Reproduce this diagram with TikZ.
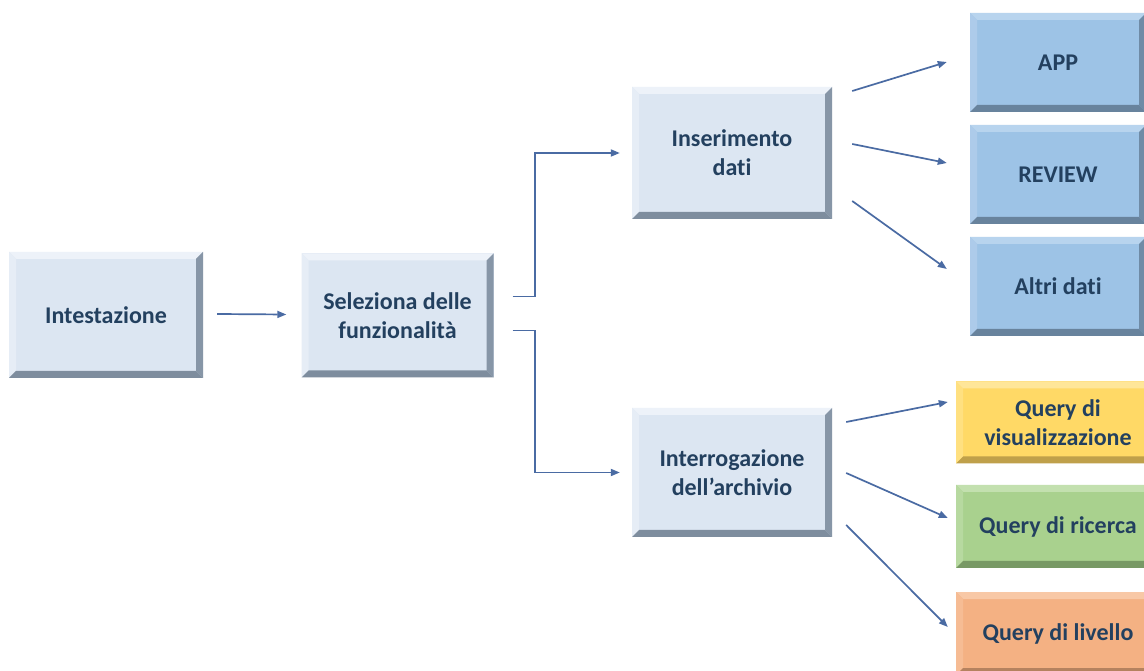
\documentclass[tikz,border=0pt]{standalone}
\usepackage{fontspec}
\setmainfont{Carlito}[Ligatures=NoCommon]
\usetikzlibrary{arrows.meta}

\definecolor{linkc}{HTML}{4A6BA3}
\definecolor{txtc}{HTML}{23405F}
% pale blue process boxes
\definecolor{paleF}{HTML}{DCE6F2}
\definecolor{paleT}{HTML}{EDF2F9}
\definecolor{paleL}{HTML}{E6EDF6}
\definecolor{paleR}{HTML}{8796A7}
\definecolor{paleB}{HTML}{7E8D9E}
% blue output boxes
\definecolor{blueF}{HTML}{9DC3E6}
\definecolor{blueT}{HTML}{B8D4EE}
\definecolor{blueL}{HTML}{ADCBEA}
\definecolor{blueR}{HTML}{6F8BA6}
\definecolor{blueB}{HTML}{68839D}
% yellow
\definecolor{yelF}{HTML}{FFD966}
\definecolor{yelT}{HTML}{FFE699}
\definecolor{yelL}{HTML}{FFE080}
\definecolor{yelR}{HTML}{C7A74E}
\definecolor{yelB}{HTML}{BFA04A}
% green
\definecolor{grnF}{HTML}{A9D18E}
\definecolor{grnT}{HTML}{C3E0AF}
\definecolor{grnL}{HTML}{B7D9A0}
\definecolor{grnR}{HTML}{80A06A}
\definecolor{grnB}{HTML}{789965}
% orange
\definecolor{orgF}{HTML}{F4B183}
\definecolor{orgT}{HTML}{F8C8A6}
\definecolor{orgL}{HTML}{F6BC94}
\definecolor{orgR}{HTML}{BE8965}
\definecolor{orgB}{HTML}{B5825F}

\tikzset{
  bevel/.style n args={5}{
    rectangle, inner sep=0pt, fill=#1, text=txtc, align=center,
    font=\fontsize{24}{29}\selectfont\bfseries,
    path picture={
      \fill[#2] (path picture bounding box.north west)
        -- (path picture bounding box.north east)
        -- ([shift={(-7pt,-7pt)}]path picture bounding box.north east)
        -- ([shift={(7pt,-7pt)}]path picture bounding box.north west) -- cycle;
      \fill[#3] (path picture bounding box.north west)
        -- ([shift={(7pt,-7pt)}]path picture bounding box.north west)
        -- ([shift={(7pt,7pt)}]path picture bounding box.south west)
        -- (path picture bounding box.south west) -- cycle;
      \fill[#4] (path picture bounding box.north east)
        -- (path picture bounding box.south east)
        -- ([shift={(-7pt,7pt)}]path picture bounding box.south east)
        -- ([shift={(-7pt,-7pt)}]path picture bounding box.north east) -- cycle;
      \fill[#5] (path picture bounding box.south west)
        -- (path picture bounding box.south east)
        -- ([shift={(-7pt,7pt)}]path picture bounding box.south east)
        -- ([shift={(7pt,7pt)}]path picture bounding box.south west) -- cycle;
    }},
  palebox/.style={bevel={paleF}{paleT}{paleL}{paleR}{paleB}},
  bluebox/.style={bevel={blueF}{blueT}{blueL}{blueR}{blueB},
    minimum width=176pt, minimum height=99pt},
  yelbox/.style={bevel={yelF}{yelT}{yelL}{yelR}{yelB},
    minimum width=204pt, minimum height=82pt},
  grnbox/.style={bevel={grnF}{grnT}{grnL}{grnR}{grnB},
    minimum width=204pt, minimum height=83pt},
  orgbox/.style={bevel={orgF}{orgT}{orgL}{orgR}{orgB},
    minimum width=204pt, minimum height=83pt},
  link/.style={draw=linkc, line width=1.7pt,
    -{Triangle[length=9pt,width=7pt]}}
}

\begin{document}
\begin{tikzpicture}[x=1pt,y=1pt]
  \useasboundingbox (0,0) rectangle (1144,670);
  \clip (0,0) rectangle (1144,670);
  \fill[white] (0,0) rectangle (1144,670);

  % main flow
  \node[palebox, minimum width=194pt, minimum height=126pt] (int) at (106,355) {Intestazione};
  \node[palebox, minimum width=192pt, minimum height=124pt] (sel) at (397.5,354.5) {Seleziona delle\\funzionalità};
  \node[palebox, minimum width=200pt, minimum height=132pt] (ins) at (732,517) {Inserimento\\dati};
  \node[palebox, minimum width=200pt, minimum height=129pt] (arc) at (732,197.5) {Interrogazione\\dell’archivio};

  % data entry outputs
  \node[bluebox] (app) at (1058,607.5) {APP};
  \node[bluebox] (rev) at (1058,495.5) {REVIEW};
  \node[bluebox] (alt) at (1058,383.5) {Altri dati};

  % query outputs
  \node[yelbox] (vis) at (1058,247.5) {Query di\\visualizzazione};
  \node[grnbox] (ric) at (1058,143.5) {Query di ricerca};
  \node[orgbox] (liv) at (1058,36.5) {Query di livello};

  % connectors
  \draw[link] ([shift={(14pt,1pt)}]int.east) -- ([shift={(-15pt,1pt)}]sel.west);
  \draw[link] ([shift={(19pt,19pt)}]sel.east) -- ++(22pt,0) |- ([xshift=-12pt]ins.west);
  \draw[link] ([shift={(19pt,-15pt)}]sel.east) -- ++(22pt,0) |- ([xshift=-12pt]arc.west);

  \draw[link] ([shift={(20pt,62pt)}]ins.east) -- ([shift={(-23pt,0.5pt)}]app.west);
  \draw[link] ([shift={(20pt,9pt)}]ins.east) -- ([shift={(-23pt,11.5pt)}]rev.west);
  \draw[link] ([shift={(20pt,-48pt)}]ins.east) -- ([shift={(-23pt,17.5pt)}]alt.west);

  \draw[link] ([shift={(14pt,50.5pt)}]arc.east) -- ([shift={(-8pt,20.5pt)}]vis.west);
  \draw[link] ([shift={(14pt,-0.5pt)}]arc.east) -- ([shift={(-8pt,8.5pt)}]ric.west);
  \draw[link] ([shift={(14pt,-52.5pt)}]arc.east) -- ([shift={(-8pt,6.5pt)}]liv.west);
\end{tikzpicture}
\end{document}
